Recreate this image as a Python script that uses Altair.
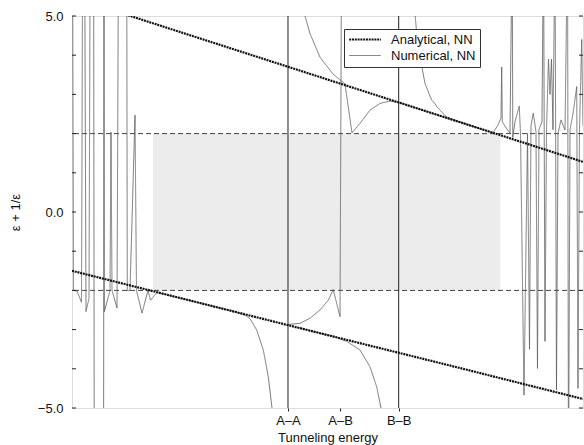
import altair as alt
import pandas as pd

# Tunneling-energy axis (arbitrary units, 0-100) with three reference couplings
energy_ticks = [42.27, 52.45, 63.93]
energy_labels = ["A–A", "A–B", "B–B"]
coupling_lines = [42.27, 63.93]

# eps + 1/eps axis
y_labels = [-5, 0, 5]
y_minor = [-5, -4, -3, -2, -1, 0, 1, 2, 3, 4, 5]
band_edges = [-2.0, 2.0]

# Region of complex eps (|eps + 1/eps| < 2), stippled
band_x = [15.85]
band_x2 = [83.85]

# Analytical nearest-neighbour branches
ana_x = [0, 25, 50, 75, 100]
ana_upper = [5.48, 4.43, 3.38, 2.33, 1.28]
ana_lower = [-1.50, -2.32, -3.14, -3.95, -4.77]

# Numerical nearest-neighbour result (values beyond +-5 run off the frame)
num_a_x = [0.10, 0.30, 0.98, 1.86, 2.09, 2.47, 2.74, 3.33, 3.56, 4.23, 4.36, 6.18,
           6.26, 6.34, 7.44, 7.63, 7.83, 8.81, 9.10, 10.70, 10.82, 11.35, 12.33,
           12.62, 13.70, 14.87, 15.36, 16.63, 25.00, 31.50, 33.85, 34.83, 36.14,
           37.44, 38.41, 39.14, 39.43]
num_a_y = [7.0, -2.00, -2.02, -2.30, 7.0, 7.0, -2.54, -2.20, 7.0, 7.0, -7.0, -7.0,
           7.0, -2.54, -2.00, 2.04, -2.00, -2.45, 7.0, 7.0, -2.00, -2.00, 2.47,
           -2.00, -2.58, -2.00, -2.25, -2.05, -2.32, -2.53, -2.63, -2.72, -3.01,
           -3.52, -4.20, -5.00, -7.0]

num_b_x = [45.30, 45.60, 46.57, 48.53, 51.07, 53.42, 54.79, 56.36, 58.32, 60.27,
           62.23, 63.93, 70.00, 80.00]
num_b_y = [7.0, 5.00, 4.55, 3.95, 3.52, 3.27, 2.02, 2.26, 2.60, 2.77,
           2.83, 2.80, 2.54, 2.12]

num_c_x = [42.27, 44.62, 46.57, 48.53, 50.15, 51.13, 52.45, 52.76]
num_c_y = [-2.87, -2.84, -2.71, -2.50, -2.25, -1.98, -2.67, 7.0]

num_d_x = [44.00, 51.13, 53.76, 56.36, 58.32, 59.63, 60.47, 60.66]
num_d_y = [-2.94, -3.17, -3.30, -3.52, -3.95, -4.46, -5.00, -7.0]

num_e_x = [66.83, 67.12, 67.45, 68.10, 69.08, 70.39, 70.84, 71.37, 73.33, 77.89,
           82.39, 83.27, 83.95, 84.09, 84.21, 84.93, 85.71, 86.14, 86.26, 86.69,
           87.53, 87.77, 88.45, 89.14, 89.53, 89.82, 90.27, 90.80, 91.09, 91.39,
           91.97, 92.27, 92.56, 92.86, 93.25, 93.54, 93.84, 94.13, 94.52, 94.81,
           95.11, 95.69, 96.48, 96.97, 97.16, 97.46, 98.04, 98.77, 99.02, 99.31,
           99.75, 100.0]
num_e_y = [7.0, 5.07, 4.56, 3.96, 3.28, 2.85, 2.80, 2.69, 2.42, 2.21,
           2.02, 2.20, 2.39, 3.70, 2.30, 2.15, 2.01, 7.0, 1.90, 2.30,
           2.70, 2.00, -4.67, 2.00, -3.50, 2.20, 2.52, 2.05, -3.99, 2.10,
           2.30, 7.0, -3.30, 2.10, 3.90, 3.00, 3.90, 2.10, 7.0, -4.54,
           2.00, 2.35, 2.09, 7.0, -7.0, 2.10, 2.50, 3.20, -4.50, 2.10,
           4.40, 2.20]

series = ["Analytical, NN", "Numerical, NN"]

# ---- tables -------------------------------------------------------------
ana_rows = []
for name, ys in (("upper", ana_upper), ("lower", ana_lower)):
    for i, (x, y) in enumerate(zip(ana_x, ys)):
        ana_rows.append({"x": x, "y": y, "piece": name, "i": i, "series": series[0]})
ana_df = pd.DataFrame(ana_rows)

num_rows = []
for name, xs, ys in (("a", num_a_x, num_a_y), ("b", num_b_x, num_b_y),
                     ("c", num_c_x, num_c_y), ("d", num_d_x, num_d_y),
                     ("e", num_e_x, num_e_y)):
    for i, (x, y) in enumerate(zip(xs, ys)):
        num_rows.append({"x": x, "y": y, "piece": name, "i": i, "series": series[1]})
num_df = pd.DataFrame(num_rows)

band_df = pd.DataFrame({"x": band_x, "x2": band_x2,
                        "y": [band_edges[0]], "y2": [band_edges[1]]})
edge_df = pd.DataFrame({"y": band_edges})
coup_df = pd.DataFrame({"x": coupling_lines})
ytick_df = pd.DataFrame({"y": y_minor})

# ---- scales and axes ------------------------------------------------------
W, H = 511, 392
FONT = "Liberation Sans"

label_expr = " : ".join(
    f"abs(datum.value - {v}) < 0.01 ? '{lab}'" for v, lab in zip(energy_ticks, energy_labels)
) + " : ''"

x_enc = alt.X(
    "x:Q",
    scale=alt.Scale(domain=[0, 100], nice=False, zero=False),
    axis=alt.Axis(values=energy_ticks, labelExpr=label_expr, title="Tunneling energy",
                  grid=False, domain=False, tickSize=3, tickColor="#222",
                  labelFontSize=13, labelPadding=3, titleFontSize=13,
                  titleFontWeight="normal", titlePadding=4, labelColor="#111",
                  titleColor="#111"),
)
y_enc = alt.Y(
    "y:Q",
    scale=alt.Scale(domain=[-5, 5], nice=False, zero=False),
    axis=alt.Axis(values=y_labels, format=".1f", title="ε + 1/ε", grid=False,
                  domain=False, ticks=False, labelFontSize=13, labelPadding=9,
                  titleFontSize=13, titleFontWeight="normal", titlePadding=15,
                  labelColor="#111", titleColor="#111"),
)

leg = alt.Legend(title=None, orient="none", legendX=272, legendY=13,
                 symbolType="stroke", symbolSize=1000, clipHeight=13,
                 strokeColor="#333", fillColor="white", padding=4,
                 labelFontSize=13, labelOffset=9, rowPadding=2,
                 labelColor="#111")

color_enc = alt.Color("series:N", scale=alt.Scale(domain=series, range=["#111111", "#555555"]),
                      legend=leg)
dash_enc = alt.StrokeDash("series:N", scale=alt.Scale(domain=series, range=[[2, 0.8], [1, 0]]),
                          legend=leg)
width_enc = alt.StrokeWidth("series:N", scale=alt.Scale(domain=series, range=[2.2, 0.8]),
                            legend=leg)

# ---- layers ---------------------------------------------------------------
band = alt.Chart(band_df).mark_rect(fill="#ececec").encode(
    x=x_enc, x2="x2:Q", y=y_enc, y2="y2:Q")

edges = alt.Chart(edge_df).mark_rule(color="#444", strokeWidth=1, strokeDash=[5, 3]).encode(
    y=y_enc)

couplings = alt.Chart(coup_df).mark_rule(color="#222", strokeWidth=1).encode(x=x_enc)

numerical = alt.Chart(num_df).mark_line(clip=True).encode(
    x=x_enc, y=y_enc, detail="piece:N", order="i:Q",
    color=color_enc, strokeDash=dash_enc, strokeWidth=width_enc)

analytical = alt.Chart(ana_df).mark_line(clip=True).encode(
    x=x_enc, y=y_enc, detail="piece:N", order="i:Q",
    color=color_enc, strokeDash=dash_enc, strokeWidth=width_enc)

ticks_left = alt.Chart(ytick_df).mark_rule(color="#222", strokeWidth=1).encode(
    y=y_enc, x=alt.value(0), x2=alt.value(4))
ticks_right = alt.Chart(ytick_df).mark_rule(color="#222", strokeWidth=1).encode(
    y=y_enc, x=alt.value(W - 4), x2=alt.value(W))

chart = alt.layer(band, edges, couplings, numerical, analytical, ticks_left, ticks_right).properties(
    width=W, height=H,
    autosize=alt.AutoSizeParams(type="none"),
    padding={"left": 72, "top": 16, "right": 1, "bottom": 37},
    background="white",
).configure_view(stroke="#222", strokeWidth=1).configure(font=FONT)

chart.save("out.html", embed_options={"renderer": "svg", "actions": False})
